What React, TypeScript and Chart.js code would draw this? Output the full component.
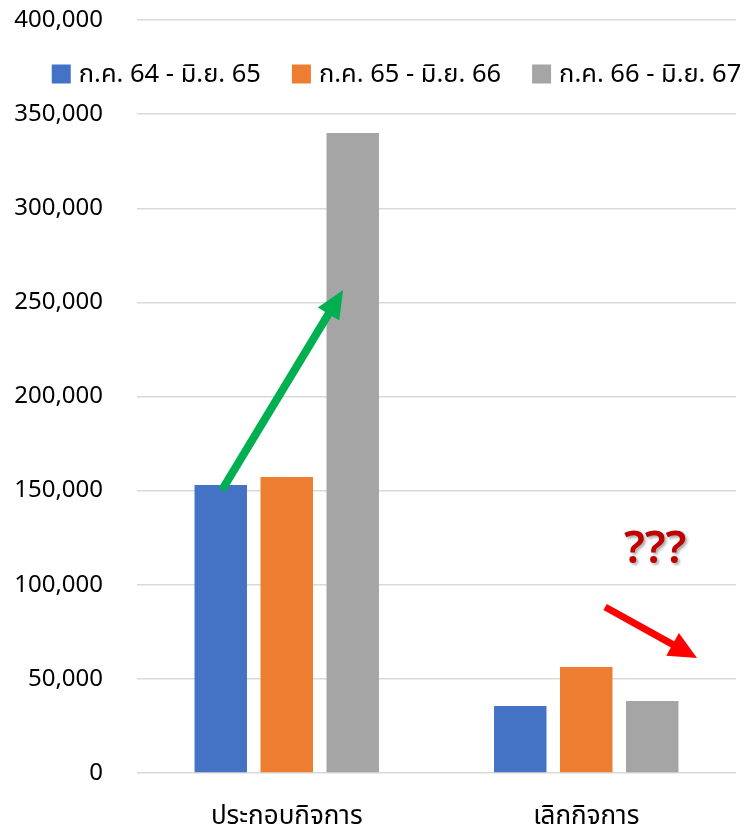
import React, { useEffect, useRef } from "react";
import { Chart, registerables } from "chart.js";

Chart.register(...registerables);

// ---- data ----
const categories = ["ประกอบกิจการ", "เลิกกิจการ"];
const seriesLabels = ["ก.ค. 64 - มิ.ย. 65", "ก.ค. 65 - มิ.ย. 66", "ก.ค. 66 - มิ.ย. 67"];
const seriesA = [153000, 35600];
const seriesB = [157300, 56300];
const seriesC = [340000, 38300];
const seriesColors = ["#4472C4", "#ED7D31", "#A5A5A5"];
const yMin = 0;
const yMax = 400000;
const yStep = 50000;

// annotations in data space: [xFrom, yFrom, xTo, yTo] (x = category index)
const greenArrow = [-0.216, 150400, 0.188, 256600];
const redArrow = [1.063, 88200, 1.37, 61100];
const questionText = "???";
const questionPos = [1.23, 118500];

const FONT = '"Noto Sans", "Noto Sans Thai", Tahoma, "DejaVu Sans", sans-serif';

function drawArrow(
  ctx: CanvasRenderingContext2D,
  x1: number, y1: number, x2: number, y2: number,
  color: string, width: number, headLen: number, headWidth: number
) {
  const ang = Math.atan2(y2 - y1, x2 - x1);
  const c = Math.cos(ang), s = Math.sin(ang);
  const bx = x2 - headLen * c, by = y2 - headLen * s;
  ctx.save();
  ctx.strokeStyle = color;
  ctx.fillStyle = color;
  ctx.lineWidth = width;
  ctx.lineCap = "butt";
  ctx.beginPath();
  ctx.moveTo(x1, y1);
  ctx.lineTo(bx + c * 2, by + s * 2);
  ctx.stroke();
  ctx.beginPath();
  ctx.moveTo(x2, y2);
  ctx.lineTo(bx - (headWidth / 2) * s, by + (headWidth / 2) * c);
  ctx.lineTo(bx + (headWidth / 2) * s, by - (headWidth / 2) * c);
  ctx.closePath();
  ctx.fill();
  ctx.restore();
}

const annotationPlugin = {
  id: "annotations",
  afterDatasetsDraw(chart: any) {
    const ctx: CanvasRenderingContext2D = chart.ctx;
    const xs = chart.scales.x;
    const ys = chart.scales.y;
    const g = greenArrow;
    drawArrow(ctx, xs.getPixelForValue(g[0]), ys.getPixelForValue(g[1]),
      xs.getPixelForValue(g[2]), ys.getPixelForValue(g[3]), "#00B050", 8, 28, 25);
    const r = redArrow;
    drawArrow(ctx, xs.getPixelForValue(r[0]), ys.getPixelForValue(r[1]),
      xs.getPixelForValue(r[2]), ys.getPixelForValue(r[3]), "#FF0000", 7, 28, 26);
    ctx.save();
    ctx.font = `600 45px ${FONT}`;
    ctx.fillStyle = "#C00000";
    ctx.textAlign = "center";
    ctx.textBaseline = "middle";
    ctx.shadowColor = "rgba(0,0,0,0.35)";
    ctx.shadowOffsetX = 2;
    ctx.shadowOffsetY = 2;
    ctx.shadowBlur = 3;
    ctx.fillText(questionText, xs.getPixelForValue(questionPos[0]), ys.getPixelForValue(questionPos[1]));
    ctx.restore();
  },
  afterDraw(chart: any) {
    const ctx: CanvasRenderingContext2D = chart.ctx;
    ctx.save();
    ctx.font = `25.5px ${FONT}`;
    ctx.textBaseline = "middle";
    ctx.textAlign = "left";
    const box = 19, gapBoxText = 8, gapItems = 31;
    const widths = seriesLabels.map((l) => ctx.measureText(l).width);
    const total = widths.reduce((a, w) => a + box + gapBoxText + w, 0) + gapItems * (seriesLabels.length - 1);
    const center = chart.width / 2 + 24;
    let x = center - total / 2;
    const cy = 74;
    seriesLabels.forEach((l, i) => {
      ctx.fillStyle = seriesColors[i];
      ctx.fillRect(x, cy - box / 2, box, box);
      ctx.fillStyle = "#000";
      ctx.fillText(l, x + box + gapBoxText, cy + 1);
      x += box + gapBoxText + widths[i] + gapItems;
    });
    ctx.restore();
  },
};

export default function App() {
  const ref = useRef<HTMLCanvasElement>(null);
  useEffect(() => {
    document.body.style.margin = "0";
    const canvas = ref.current!;
    const chart = new Chart(canvas, {
      type: "bar",
      data: {
        labels: categories,
        datasets: [seriesA, seriesB, seriesC].map((d, i) => ({
          label: seriesLabels[i],
          data: d,
          backgroundColor: seriesColors[i],
          borderWidth: 0,
          categoryPercentage: 0.661,
          barPercentage: 0.795,
        })),
      },
      options: {
        responsive: false,
        animation: false,
        devicePixelRatio: 1,
        layout: { padding: { top: 0, right: 9, left: 0, bottom: 0 } },
        plugins: {
          legend: { display: false },
          tooltip: { enabled: false },
        },
        scales: {
          x: {
            grid: { display: false, drawTicks: false },
            border: { display: false },
            ticks: { color: "#000", font: { family: FONT, size: 26 }, padding: 28 },
            afterFit: (s: any) => { s.height = 59; },
          },
          y: {
            min: yMin,
            max: yMax,
            grid: { color: "#D9D9D9", lineWidth: 1.5, drawTicks: false },
            border: { display: false },
            ticks: {
              stepSize: yStep,
              color: "#000",
              font: { family: FONT, size: 24 },
              padding: 34,
              callback: (v: any) => Number(v).toLocaleString("en-US"),
            },
            afterFit: (s: any) => { s.width = 137; s.paddingTop = 20; s.paddingBottom = 0; },
          },
        },
      },
      plugins: [annotationPlugin],
    });
    return () => chart.destroy();
  }, []);
  return <canvas ref={ref} width={745} height={832} style={{ display: "block" }} />;
}
